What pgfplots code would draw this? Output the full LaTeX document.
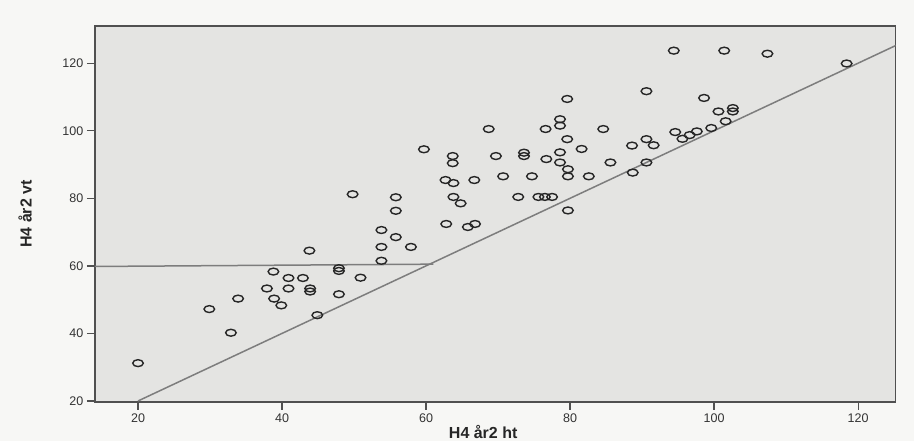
\documentclass[border=0pt]{standalone}
\usepackage{fontspec}
\setmainfont{Liberation Sans}
\usepackage{pgfplots}
\pgfplotsset{compat=1.18}
\definecolor{bg}{RGB}{228,228,226}
\definecolor{paper}{RGB}{247,247,245}
\definecolor{framec}{RGB}{80,80,80}
\definecolor{refl}{RGB}{125,125,125}
\pgfplotstableread{
x y
20 31.2
29.9 47.2
32.9 40.2
33.9 50.3
37.9 53.3
38.8 58.3
38.9 50.3
39.9 48.3
40.9 56.4
40.9 53.3
42.9 56.4
43.8 64.5
43.9 53.3
43.9 52.4
44.9 45.4
47.9 59.3
47.9 58.5
47.9 51.6
50.9 56.5
49.8 81.2
53.8 70.6
53.8 65.6
53.8 61.5
55.8 80.3
55.8 76.3
55.8 68.5
57.9 65.6
59.7 94.5
63.7 92.5
63.7 90.4
62.7 85.4
63.8 84.5
66.7 85.4
63.8 80.4
64.8 78.5
62.8 72.4
65.8 71.5
66.8 72.4
68.7 100.5
69.7 92.5
70.7 86.5
73.6 93.5
73.6 92.5
72.8 80.4
74.7 86.5
75.6 80.4
76.5 80.4
77.5 80.4
76.6 100.5
78.6 103.4
78.6 101.5
79.6 109.4
79.6 97.5
76.7 91.6
78.6 93.6
78.6 90.6
79.7 88.6
79.7 86.5
81.6 94.6
82.6 86.5
79.7 76.4
84.6 100.5
85.6 90.6
88.6 95.6
88.7 87.6
90.6 97.5
90.6 90.6
91.6 95.7
90.6 111.7
94.4 123.7
101.4 123.7
107.4 122.8
118.4 119.9
98.6 109.7
100.6 105.7
102.6 106.7
102.6 105.7
101.6 102.8
99.6 100.8
97.6 99.8
96.6 98.7
95.6 97.6
94.6 99.6
}\pts
\begin{document}
\begin{tikzpicture}[x=1pt,y=1pt]
\path[use as bounding box, fill=paper] (0,0) rectangle (914,441);
\begin{axis}[
  at={(94.8pt,39pt)}, anchor=south west,
  width=800.8pt, height=376pt, scale only axis,
  xmin=14, xmax=125.2, ymin=19.7, ymax=131,
  axis background/.style={fill=bg},
  axis line style={framec, line width=1.5pt},
  tick pos=left,
  tick align=outside, major tick length=8pt,
  tick style={framec, line width=1.3pt},
  xtick={20,40,...,120}, ytick={20,40,...,120},
  ticklabel style={font=\fontsize{12.5}{14}\selectfont, text=black!80},
  /pgf/number format/assume math mode=true,
  xlabel={H4 år2 ht}, ylabel={H4 år2 vt},
  label style={font=\bfseries\fontsize{16}{18}\selectfont, text=black!85},
  xlabel style={at={(axis description cs:0.485,-0.08)}, anchor=center},
  ylabel style={at={(axis description cs:-0.087,0.5)}, anchor=center},
]
\addplot[refl, line width=1.5pt] coordinates {(20,20) (126,126)};
\addplot[refl, line width=1.5pt] coordinates {(13,59.8) (61,60.5)};
\addplot[only marks, mark=o, mark size=5.3pt,
  mark options={yscale=0.65, line width=1.4pt, draw=black!85}] table[x=x,y=y] {\pts};
\end{axis}
\end{tikzpicture}
\end{document}
